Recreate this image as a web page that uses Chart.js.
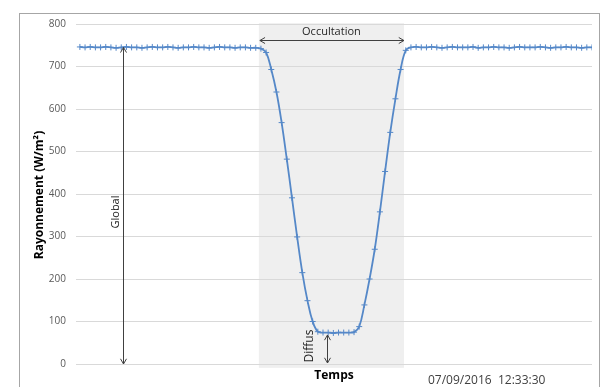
<!DOCTYPE html>
<html>
<head>
<meta charset="utf-8">
<script src="https://cdn.jsdelivr.net/npm/chart.js@4/dist/chart.umd.min.js"></script>
<style>
  html, body { margin: 0; padding: 0; background: #fff; }
  #wrap { width: 609px; height: 387px; }
</style>
</head>
<body>
<div id="wrap"><canvas id="c" width="609" height="387"></canvas></div>
<script>
// Rayonnement measured during an occultation, one point per sample
const rayonnement = [
  746, 745, 746, 745, 745, 746, 745, 744, 745, 746,
  745, 745, 744, 745, 746, 745, 745, 746, 745, 744,
  745, 745, 746, 745, 745, 744, 745, 746, 745, 745,
  744, 745, 745, 744, 744, 742, 733, 693, 640, 568,
  482, 391, 299, 215, 149, 100, 76, 74, 74, 73,
  74, 74, 74, 75, 88, 139, 200, 270, 358, 453,
  545, 624, 693, 738, 745, 746, 745, 745, 746, 745,
  744, 745, 746, 745, 745, 745, 746, 744, 745, 745,
  746, 745, 745, 744, 745, 746, 745, 745, 745, 746,
  745, 744, 745, 745, 746, 745, 745, 744, 745, 745
];
const samples = rayonnement.map((v, i) => i);
const yTicks = [0, 100, 200, 300, 400, 500, 600, 700, 800];

// annotation anchors (sample index / W/m²)
const occultation = [34.6, 62.65];
const shadeRange = [-9, 802];
const occArrowY = 762;
const globalX = 8.35;
const globalRange = [745, 0];
const diffusX = 47.8;
const diffusRange = [73, 0];

function arrowHead(ctx, x, y, ang) {
  const L = 6, a = Math.PI / 6;
  ctx.beginPath();
  ctx.moveTo(x - L * Math.cos(ang - a), y - L * Math.sin(ang - a));
  ctx.lineTo(x, y);
  ctx.lineTo(x - L * Math.cos(ang + a), y - L * Math.sin(ang + a));
  ctx.stroke();
}
function arrow(ctx, x1, y1, x2, y2) {
  ctx.beginPath();
  ctx.moveTo(x1, y1);
  ctx.lineTo(x2, y2);
  ctx.stroke();
  const ang = Math.atan2(y2 - y1, x2 - x1);
  arrowHead(ctx, x2, y2, ang);
  arrowHead(ctx, x1, y1, ang + Math.PI);
}

const annot = {
  id: 'annot',
  beforeDraw(chart) {
    const { ctx, scales: { x, y } } = chart;
    ctx.save();
    ctx.strokeStyle = '#a6a6a6';
    ctx.lineWidth = 1;
    ctx.strokeRect(19.5, 13.5, 580, 400);
    const x0 = x.getPixelForValue(occultation[0]), x1 = x.getPixelForValue(occultation[1]);
    const y0 = y.getPixelForValue(shadeRange[1]), y1 = y.getPixelForValue(shadeRange[0]);
    ctx.fillStyle = '#efefef';
    ctx.fillRect(x0, y0, x1 - x0, y1 - y0);
    ctx.restore();
  },
  afterDraw(chart) {
    const { ctx, scales: { x, y } } = chart;
    ctx.save();
    ctx.strokeStyle = '#404040';
    ctx.fillStyle = '#262626';
    ctx.lineWidth = 1;
    // Occultation
    const ox0 = x.getPixelForValue(occultation[0]), ox1 = x.getPixelForValue(occultation[1]);
    const oy = Math.round(y.getPixelForValue(occArrowY)) + 0.5;
    arrow(ctx, ox0 + 1, oy, ox1, oy);
    ctx.font = '11px "Open Sans"';
    ctx.textAlign = 'center';
    ctx.textBaseline = 'middle';
    ctx.fillText('Occultation', (ox0 + ox1) / 2, 32);
    // Global
    const gx = Math.round(x.getPixelForValue(globalX)) + 0.5;
    arrow(ctx, gx, y.getPixelForValue(globalRange[0]), gx, y.getPixelForValue(globalRange[1]));
    ctx.save();
    ctx.translate(gx - 8, 212);
    ctx.rotate(-Math.PI / 2);
    ctx.fillText('Global', 0, 0);
    ctx.restore();
    // Diffus
    const dx = Math.round(x.getPixelForValue(diffusX)) + 0.5;
    arrow(ctx, dx, y.getPixelForValue(diffusRange[0]) + 2, dx, y.getPixelForValue(diffusRange[1]) - 1);
    ctx.save();
    ctx.translate(dx - 18, 346);
    ctx.rotate(-Math.PI / 2);
    ctx.font = '12px "Open Sans"';
    ctx.fillText('Diffus', 0, 0);
    ctx.restore();
    // axis titles and timestamp
    ctx.font = 'bold 12px "Open Sans"';
    ctx.fillStyle = '#000';
    ctx.fillText('Temps', 334, 376);
    ctx.save();
    ctx.translate(40, 195);
    ctx.rotate(-Math.PI / 2);
    ctx.fillText('Rayonnement (W/m²)', 0, 0);
    ctx.restore();
    ctx.font = '12px "Open Sans"';
    ctx.fillStyle = '#404040';
    ctx.textAlign = 'left';
    ctx.fillText('07/09/2016  12:33:30', 428, 381);
    ctx.restore();
  }
};

new Chart(document.getElementById('c'), {
  type: 'line',
  data: {
    datasets: [{
      data: rayonnement.map((v, i) => ({ x: samples[i], y: v })),
      borderColor: '#5588c8',
      backgroundColor: '#5588c8',
      borderWidth: 1.8,
      pointStyle: 'cross',
      pointRadius: 3,
      pointBorderWidth: 1,
      pointBorderColor: '#5588c8',
      tension: 0.4
    }]
  },
  options: {
    responsive: false,
    animation: false,
    devicePixelRatio: 1,
    layout: { padding: { left: 0, top: 24, right: 17, bottom: 23 } },
    plugins: { legend: { display: false }, tooltip: { enabled: false } },
    scales: {
      x: {
        type: 'linear',
        display: false,
        min: -0.75,
        max: samples.length - 1
      },
      y: {
        min: 0,
        max: 800,
        afterBuildTicks: s => { s.ticks = yTicks.map(v => ({ value: v })); },
        afterFit: s => { s.width = 76; },
        border: { display: false },
        grid: { color: '#d9d9d9', drawTicks: false },
        ticks: { padding: 10, color: '#595959', font: { family: 'Open Sans', size: 10 } }
      }
    }
  },
  plugins: [annot]
});
</script>
</body>
</html>
